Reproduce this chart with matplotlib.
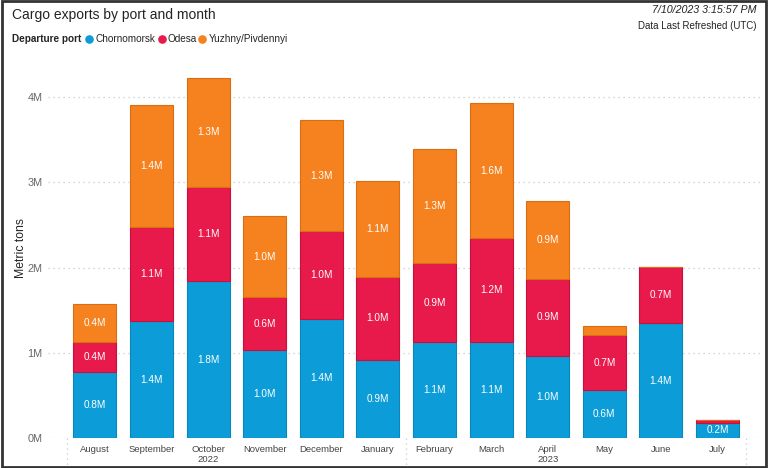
import numpy as np
import matplotlib.pyplot as plt
from matplotlib.patches import Rectangle
from matplotlib.lines import Line2D
import matplotlib.transforms as mtrans

plt.rcParams['font.family'] = ['Liberation Sans', 'DejaVu Sans']

# data (millions of metric tons)
months = ['August', 'September', 'October', 'November', 'December', 'January',
          'February', 'March', 'April', 'May', 'June', 'July']
chornomorsk = [0.77, 1.37, 1.84, 1.03, 1.40, 0.92, 1.13, 1.13, 0.96, 0.56, 1.35, 0.18]
odesa = [0.36, 1.11, 1.11, 0.62, 1.03, 0.97, 0.92, 1.22, 0.91, 0.65, 0.66, 0.03]
yuzhny = [0.44, 1.43, 1.28, 0.96, 1.30, 1.13, 1.34, 1.58, 0.91, 0.11, 0.0, 0.0]
years = [('2022', 2), ('2023', 8)]
year_breaks = [-0.5, 5.5, 11.5]

series = [('Chornomorsk', chornomorsk, '#0C9DD8', '#0A86BA'),
          ('Odesa', odesa, '#E8194B', '#C4123C'),
          ('Yuzhny/Pivdennyi', yuzhny, '#F5821F', '#D96E12')]

W, H = 768, 468
fig = plt.figure(figsize=(W / 100, H / 100), dpi=100)
ax = fig.add_axes([48 / W, 30 / H, 712 / W, 379 / H])

x = np.arange(len(months))
bottom = np.zeros(len(months))
for name, vals, col, edge in series:
    vals = np.array(vals)
    ax.bar(x, vals, 0.76, bottom=bottom, color=col, edgecolor=edge, linewidth=0.8, zorder=3)
    for xi, b, v in zip(x, bottom, vals):
        if v >= 0.15:
            ax.text(xi, b + v / 2, f'{v:.1f}M', ha='center', va='center',
                    color='white', fontsize=7.2, zorder=4)
    bottom += vals

ax.set_xlim(-0.83, 11.75)
ax.set_ylim(0, 4.45)
ax.set_yticks([0, 1, 2, 3, 4])
ax.set_yticklabels(['0M', '1M', '2M', '3M', '4M'], color='#666666', fontsize=7.8)
ax.grid(axis='y', color='#C8C8C8', linestyle=(0, (1, 3)), linewidth=0.9, zorder=0)
ax.tick_params(length=0)
ax.tick_params(axis='y', pad=4)
ax.set_xticks(x)
ax.set_xticklabels(months, color='#444444', fontsize=6.8)
ax.tick_params(axis='x', pad=5)
for s in ax.spines.values():
    s.set_visible(False)
ax.set_ylabel('Metric tons', fontsize=8.8, color='#252423')
ax.yaxis.set_label_coords(-21 / 712, 0.5)

# year labels and dotted separators below the axis
tr = mtrans.blended_transform_factory(ax.transData, fig.transFigure)
for label, pos in years:
    ax.text(pos, 9 / H, label, transform=tr, ha='center', va='center',
            fontsize=6.8, color='#444444')
for xb in year_breaks:
    ax.plot([xb, xb], [30 / H, 2 / H], transform=tr, color='#C8C8C8',
            linestyle=(0, (1, 3)), linewidth=0.9, clip_on=False)

# title and legend
fig.text(12 / W, 1 - 15 / H, 'Cargo exports by port and month', fontsize=10,
         color='#252423', va='center')
ly = 1 - 39 / H
fig.text(12 / W, ly, 'Departure port', fontsize=7.2, fontweight='bold',
         color='#252423', va='center')
dot_x = [89, 162, 202]
text_x = [96, 167, 209]
for (name, vals, col, edge), dx, tx in zip(series, dot_x, text_x):
    fig.add_artist(Line2D([dx / W], [ly], marker='o', markersize=5.2, color=col,
                          linestyle='none', transform=fig.transFigure))
    fig.text(tx / W, ly, name, fontsize=7.2, color='#252423', va='center')

fig.text(756 / W, 1 - 10 / H, '7/10/2023 3:15:57 PM', fontsize=7.7, style='italic',
         ha='right', va='center', color='#252423')
fig.text(756 / W, 1 - 26 / H, 'Data Last Refreshed (UTC)', fontsize=7,
         ha='right', va='center', color='#252423')

fig.patches.append(Rectangle((0.002, 0.003), 0.995, 0.994, transform=fig.transFigure,
                             fill=False, edgecolor='#333333', linewidth=2, figure=fig))

fig.savefig('out.png', dpi=100)
